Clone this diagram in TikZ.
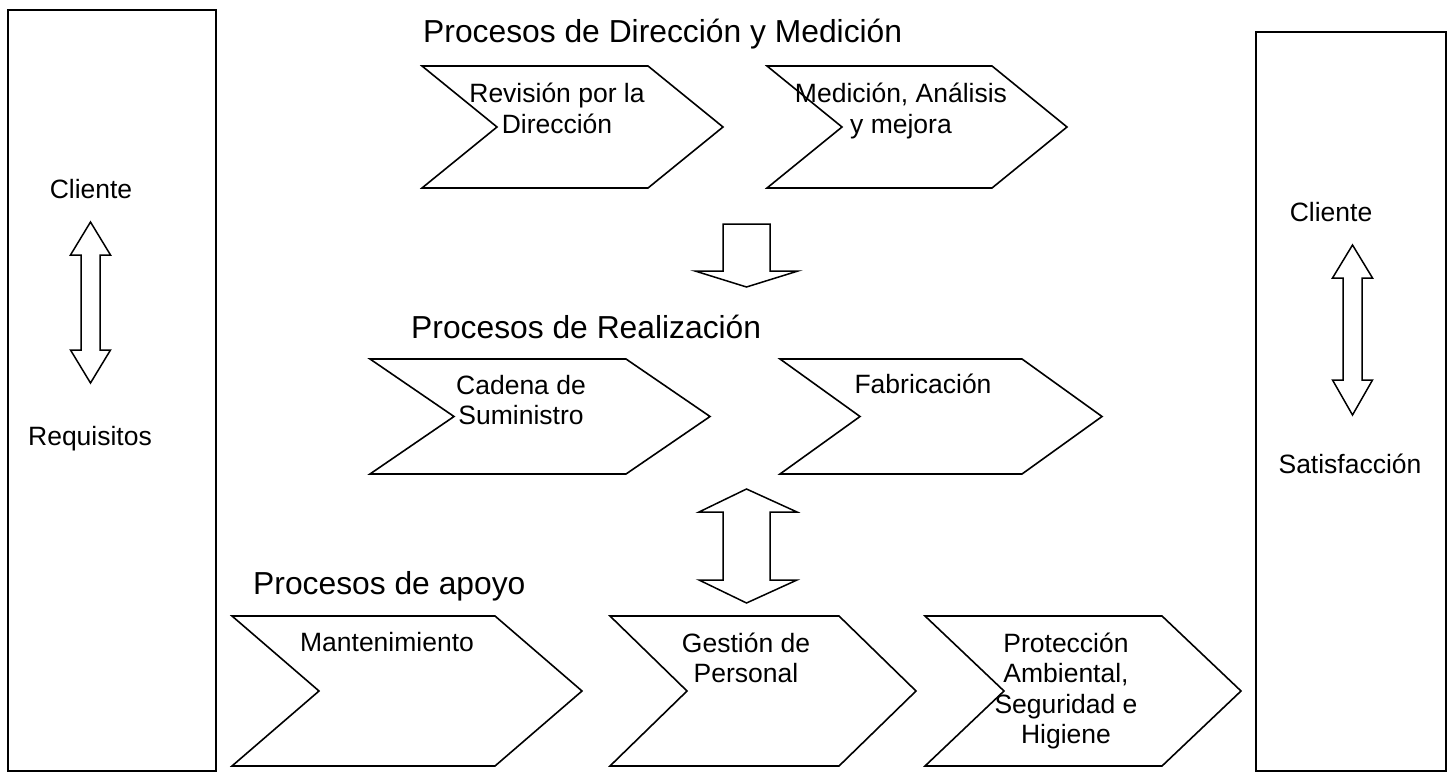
\documentclass[tikz,border=0pt]{standalone}
\usepackage{fontspec}
\setmainfont{Liberation Sans}
\newcommand\chevronpath[7]{% name, x1, x2, y1, y2, depth
  \draw[chev] (#2,#4) -- (#3,#4) -- ({#3+#6},{(#4+#5)/2}) -- (#3,#5) -- (#2,#5) -- ({#2+#6},{(#4+#5)/2}) -- cycle;
  \coordinate (#1) at ({(#2+#3)/2},{(#4+#5)/2});
  #7}
\begin{document}
\begin{tikzpicture}[x=1pt,y=-1pt,
  frame/.style={draw=black,line width=2pt},
  chev/.style={draw=black,line width=1.6pt,line join=miter},
  blockarrow/.style={draw=black,line width=1.5pt,fill=white,line join=miter},
  lbl/.style={font=\fontsize{26.5}{30.5}\selectfont,align=center,inner sep=0pt,anchor=base},
  ttl/.style={font=\fontsize{31.8}{36}\selectfont,inner sep=0pt,anchor=base west}]
\useasboundingbox (0,0) rectangle (1450,778);

% side frames
\draw[frame] (8,10) rectangle (216,771);
\draw[frame] (1256,32) rectangle (1446,771);

% side labels
\node[lbl] (cliL) at (91,199) {Cliente};
\node[lbl] (req) at (90,445) {Requisitos};
\node[lbl] (cliR) at (1331,222) {Cliente};
\node[lbl] (sat) at (1350,473) {Satisfacción};

% side double arrows
\draw[blockarrow] (81,255) -- (70.5,255) -- (90.5,222) -- (110.5,255) -- (100,255)
  -- (100,350) -- (110.5,350) -- (90.5,383) -- (70.5,350) -- (81,350) -- cycle;
\draw[blockarrow] (1343,278) -- (1332.5,278) -- (1352.5,245) -- (1372.5,278) -- (1362,278)
  -- (1362,380) -- (1372.5,380) -- (1352.5,415) -- (1332.5,380) -- (1343,380) -- cycle;

% titles
\node[ttl] (t1) at (423,43) {Procesos de Dirección y Medición};
\node[ttl] (t2) at (411,338) {Procesos de Realización};
\node[ttl] (t3) at (253,594) {Procesos de apoyo};

% chevrons
\chevronpath{rev}{422}{648}{66}{188}{75}{}
\chevronpath{med}{767}{992}{66}{188}{75}{}
\chevronpath{cad}{370}{626}{359}{474}{84}{}
\chevronpath{fab}{780}{1022}{359}{474}{80}{}
\chevronpath{man}{232}{495}{616}{766}{87}{}
\chevronpath{ges}{610}{839}{616}{766}{77}{}
\chevronpath{pro}{925}{1162}{616}{766}{79}{}

% chevron labels (anchor = baseline of last line)
\node[lbl] (revT) at (557,133.5) {Revisión por la\\Dirección};
\node[lbl] (medT) at (901,133.5) {Medición, Análisis\\y mejora};
\node[lbl] (cadT) at (521,424.5) {Cadena de\\Suministro};
\node[lbl] (fabT) at (923,393) {Fabricación};
\node[lbl] (manT) at (387,651) {Mantenimiento};
\node[lbl] (gesT) at (746,682.5) {Gestión de\\Personal};
\node[lbl] (proT) at (1066,743.5) {Protección\\Ambiental,\\Seguridad e\\Higiene};

% middle block arrows
\draw[blockarrow] (723,224) -- (770,224) -- (770,271) -- (798,271) -- (746.5,287)
  -- (695,271) -- (723,271) -- cycle;
\draw[blockarrow] (723,512) -- (699,512) -- (746.5,489) -- (797,512) -- (770,512)
  -- (770,580) -- (797,580) -- (746.5,603) -- (699,580) -- (723,580) -- cycle;
\end{tikzpicture}
\end{document}
